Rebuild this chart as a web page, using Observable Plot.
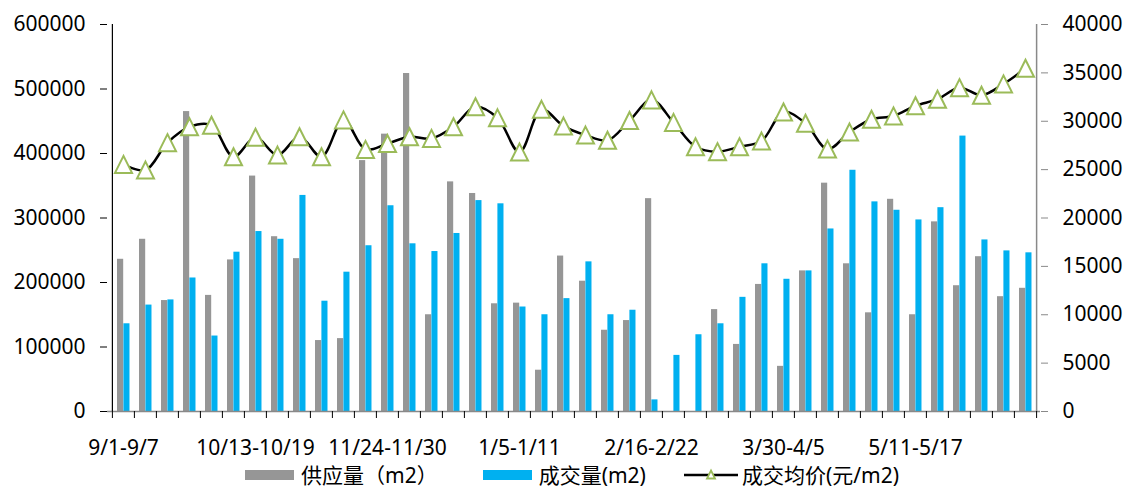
<!DOCTYPE html>
<html>
<head>
<meta charset="utf-8">
<script src="https://cdn.jsdelivr.net/npm/d3@7"></script>
<script src="https://cdn.jsdelivr.net/npm/@observablehq/plot@0.6"></script>
<style>
  html, body { margin: 0; padding: 0; background: #fff; }
  body { width: 1128px; height: 488px; position: relative; overflow: hidden;
         font-family: "Noto Sans", "Noto Sans CJK SC", sans-serif; }
  #chart { position: absolute; left: 0; top: 0; }
  #legend { position: absolute; left: 245px; top: 464px; height: 22px; display: flex; align-items: center;
            font-size: 21px; color: #000; line-height: 22px; white-space: nowrap; }
  .item { display: flex; align-items: center; }
  .sw { display: inline-block; width: 49px; height: 10px; margin-right: 7px; }
</style>
</head>
<body>
<div id="chart"></div>
<div id="legend">
  <span class="item"><span class="sw" style="background:#969696"></span>供应量（m2）</span>
  <span class="item" style="margin-left:45px"><span class="sw" style="background:#00B0F0"></span>成交量(m2)</span>
  <span class="item" style="margin-left:38px"><svg width="54" height="14" style="margin-right:4px"><line x1="0" y1="7" x2="54" y2="7" stroke="#000" stroke-width="2.5"/><path d="M27,2.5L31,10.5L23,10.5Z" fill="#fff" stroke="#9BBB59" stroke-width="1.8"/></svg>成交均价(元/m2)</span>
</div>
<script>
const categories = ["9/1-9/7","9/8-9/14","9/15-9/21","9/22-9/28","9/29-10/5","10/6-10/12","10/13-10/19","10/20-10/26","10/27-11/2","11/3-11/9","11/10-11/16","11/17-11/23","11/24-11/30","12/1-12/7","12/8-12/14","12/15-12/21","12/22-12/28","12/29-1/4","1/5-1/11","1/12-1/18","1/19-1/25","1/26-2/1","2/2-2/8","2/9-2/15","2/16-2/22","2/23-3/1","3/2-3/8","3/9-3/15","3/16-3/22","3/23-3/29","3/30-4/5","4/6-4/12","4/13-4/19","4/20-4/26","4/27-5/3","5/4-5/10","5/11-5/17","5/18-5/24","5/25-5/31","6/1-6/7","6/8-6/14","6/15-6/21"];
const supply = [236000,267000,172000,465000,180000,235000,365000,271000,237000,110000,113000,389000,430000,524000,150000,356000,338000,167000,168000,64000,241000,202000,126000,141000,330000,0,0,158000,104000,197000,70000,218000,354000,229000,153000,329000,150000,294000,195000,240000,178000,191000];
const deals = [136000,165000,173000,207000,117000,247000,279000,267000,335000,171000,216000,257000,319000,260000,248000,276000,327000,322000,162000,150000,175000,232000,150000,157000,18000,87000,119000,136000,177000,229000,205000,218000,283000,374000,325000,312000,297000,316000,427000,266000,249000,246000];
const price = [25540,24950,27790,29420,29580,26330,28340,26500,28400,26330,30140,27090,27690,28400,28230,29430,31500,30350,26810,31230,29500,28570,28030,30070,32210,29880,27360,26860,27360,27950,30950,29790,27120,28880,30210,30550,31600,32280,33470,32690,33860,35470];
const leftTicks = [0,100000,200000,300000,400000,500000,600000];
const rightTicks = [0,5000,10000,15000,20000,25000,30000,35000,40000];
const labelEvery = 6;

const data = categories.map((c, i) => ({week: c, supply: supply[i], deals: deals[i], price: price[i]}));
const K = 600000 / 40000; // right axis -> left axis scale factor
const W = 1128, H = 466, mL = 107, mR = 88, mT = 24, mB = 55;
const bw = (W - mL - mR) / categories.length;
const FONT = '"Noto Sans", "Noto Sans CJK SC", sans-serif';

const tri = {
  draw(ctx, size) {
    const h = Math.sqrt(size) / 2;
    ctx.moveTo(0, -h);
    ctx.lineTo(h, h);
    ctx.lineTo(-h, h);
    ctx.closePath();
  }
};

const chart = Plot.plot({
  width: W, height: H,
  marginTop: mT, marginBottom: mB, marginLeft: mL, marginRight: mR,
  style: {fontFamily: FONT, fontSize: "21px", color: "#000", background: "#fff", overflow: "visible"},
  x: {type: "band", domain: categories, padding: 0, axis: null, label: null},
  y: {domain: [0, 600000], axis: null, label: null},
  marks: [
    Plot.barY(data, {x: "week", y: "supply", fill: "#969696", insetLeft: 5, insetRight: bw - 11.4}),
    Plot.barY(data, {x: "week", y: "deals", fill: "#00B0F0", insetLeft: 11.4, insetRight: bw - 17.7}),
    Plot.ruleY([0], {stroke: "#898989", strokeWidth: 1.5}),
    Plot.ruleX([categories[0]], {x: d => d, dx: -bw / 2, y1: 0, y2: 600000, stroke: "#000", strokeWidth: 1.2}),
    Plot.ruleX([categories[categories.length - 1]], {x: d => d, dx: bw / 2, y1: 0, y2: 600000, stroke: "#898989", strokeWidth: 1.5}),
    Plot.line(data, {x: "week", y: d => d.price * K, stroke: "#000", strokeWidth: 2.5, curve: "catmull-rom"}),
    Plot.dot(data, {x: "week", y: d => d.price * K, symbol: tri, r: 9.6, fill: "#fff", stroke: "#9BBB59", strokeWidth: 2}),
    Plot.axisY({anchor: "left", ticks: leftTicks, tickSize: 7, tickPadding: 15, tickFormat: d => String(d), label: null,
                stroke: "#000", fill: "#000", fontSize: 21, fontFamily: FONT}),
    Plot.axisY({anchor: "right", ticks: rightTicks.map(v => v * K), tickSize: 7, tickPadding: 15, label: null,
                tickFormat: d => String(Math.round(d / K)), stroke: "#898989", fill: "#000", fontSize: 21, fontFamily: FONT}),
    Plot.axisX({ticks: categories, tickSize: 7, tickFormat: () => "", dx: -bw / 2, stroke: "#000", label: null}),
    Plot.axisX({ticks: [categories[categories.length - 1]], tickSize: 7, tickFormat: () => "", dx: bw / 2, stroke: "#000", label: null}),
    Plot.axisX({ticks: categories.filter((_, i) => i % labelEvery === 0), tickSize: 0, tickPadding: 29, label: null,
                fill: "#000", fontSize: 21, fontFamily: FONT})
  ]
});
document.getElementById("chart").appendChild(chart);
</script>
</body>
</html>
